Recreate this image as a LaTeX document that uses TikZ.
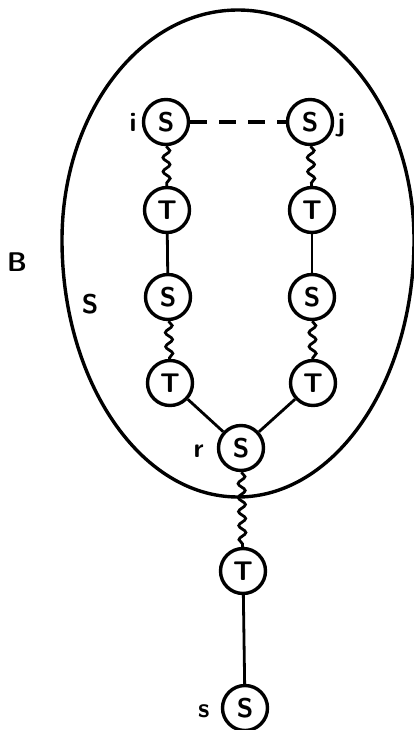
\documentclass[tikz,border=0pt]{standalone}
\usepackage{tikz}
\usetikzlibrary{positioning,decorations.pathmorphing}
\tikzset{
  vtx/.style={draw, circle, line width=3.4pt, minimum size=45pt, inner sep=0pt,
    font=\sffamily\bfseries\fontsize{27}{30}\selectfont},
  lbl/.style={font=\sffamily\bfseries\fontsize{27}{30}\selectfont, inner sep=0pt},
  wavy/.style={line width=2.8pt, decorate,
    decoration={snake, amplitude=3.5pt, segment length=14pt}},
  bond/.style={line width=2.8pt},
}

\begin{document}
\begin{tikzpicture}[x=1pt,y=-1pt]
			%%%%% START %%%%%
			\useasboundingbox (0,0) rectangle (414,730);
			
			% the region B
			\draw[line width=3.4pt] (414,240) arc (0:-180:176 and 230) arc (180:0:176 and 257) -- cycle;
			
			\node[vtx] (si) at (166,122) {S};
			\node[vtx] (sj) at (310,122) {S};
			\node[vtx] (ta) at (167,210) {T};
			\node[vtx] (tb) at (312,210) {T};
			\node[vtx] (sa) at (168,297) {S};
			\node[vtx] (sb) at (312,297) {S};
			\node[vtx] (tc) at (170,383) {T};
			\node[vtx] (td) at (313,383) {T};
			\node[vtx] (sr) at (241,448) {S};
			\node[vtx] (te) at (243,571) {T};
			\node[vtx] (ss) at (245,708) {S};
			
			\node[lbl, anchor=base east] (ni) at ([xshift=-5pt]si.base west) {i};
			\node[lbl, anchor=base west] (nj) at ([xshift=3pt]sj.base east) {j};
			\node[lbl, anchor=base east] (nr) at ([xshift=-13pt]sr.base west) {r};
			\node[lbl, anchor=base east] (ns) at ([xshift=-11pt]ss.base west) {s};
			\node[lbl] (nb) at (17,262) {B};
			\node[lbl] (nS) at (90,304) {S};
			
			\draw[line width=3.2pt, dash pattern=on 17pt off 12pt] (si) -- (sj);
			\draw[wavy] (si) -- (ta);
			\draw[wavy] (sj) -- (tb);
			\draw[bond] (ta) -- (sa);
			\draw[bond] (tb) -- (sb);
			\draw[wavy] (sa) -- (tc);
			\draw[wavy] (sb) -- (td);
			\draw[bond] (tc) -- (sr);
			\draw[bond] (td) -- (sr);
			\draw[wavy] (sr) -- (te);
			\draw[bond] (te) -- (ss);
			%%%%% END %%%%%
\end{tikzpicture}
\end{document}
